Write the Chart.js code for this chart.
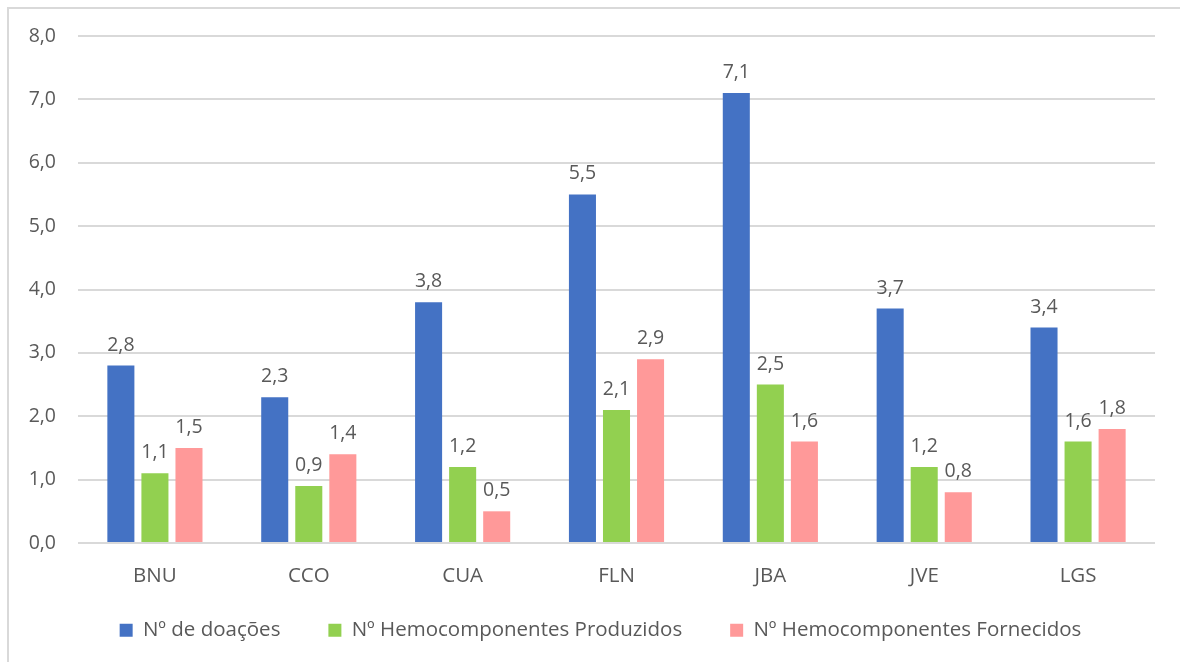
<!DOCTYPE html>
<html>
<head>
<meta charset="utf-8">
<script src="https://cdn.jsdelivr.net/npm/chart.js@4.4.1/dist/chart.umd.min.js"></script>
<style>
  html, body { margin: 0; padding: 0; background: #ffffff; }
  #wrap { position: relative; width: 1180px; height: 662px; overflow: hidden; }
  #frame { position: absolute; left: 7px; top: 7px; width: 1200px; height: 700px;
           border-top: 2px solid #d9d9d9; border-left: 2px solid #d9d9d9; box-sizing: border-box; }
  canvas { position: absolute; left: 0; top: 0; }
</style>
</head>
<body>
<div id="wrap">
  <div id="frame"></div>
  <canvas id="chart" width="1180" height="662"></canvas>
</div>
<script>
// Hemocentros regionais
const categories = ['BNU', 'CCO', 'CUA', 'FLN', 'JBA', 'JVE', 'LGS'];

// Valores por série
const doacoes = [2.8, 2.3, 3.8, 5.5, 7.1, 3.7, 3.4];
const produzidos = [1.1, 0.9, 1.2, 2.1, 2.5, 1.2, 1.6];
const fornecidos = [1.5, 1.4, 0.5, 2.9, 1.6, 0.8, 1.8];

const seriesNames = ['Nº de doações', 'Nº Hemocomponentes Produzidos', 'Nº Hemocomponentes Fornecidos'];
const seriesColors = ['#4472C4', '#92D050', '#FF9999'];

const yTicks = [0, 1, 2, 3, 4, 5, 6, 7, 8];

const FONT = '"Open Sans", Lato, sans-serif';
const TEXT = '#595959';
const NUM_SIZE = 19.5;
const TXT_SIZE = 20.5;

const fmt = v => v.toFixed(1).replace('.', ',');

// Rótulos de valor acima de cada barra
const valueLabels = {
  id: 'valueLabels',
  afterDatasetsDraw(chart) {
    const ctx = chart.ctx;
    ctx.save();
    ctx.font = NUM_SIZE + 'px ' + FONT;
    ctx.fillStyle = TEXT;
    ctx.textAlign = 'center';
    ctx.textBaseline = 'alphabetic';
    chart.data.datasets.forEach((ds, i) => {
      const meta = chart.getDatasetMeta(i);
      meta.data.forEach((bar, j) => {
        ctx.fillText(fmt(ds.data[j]), bar.x, bar.y - 15);
      });
    });
    ctx.restore();
  }
};

// Aproxima a legenda dos rótulos do eixo X e desloca-a um pouco para a direita
const legendPlacement = {
  id: 'legendPlacement',
  afterLayout(chart) {
    const lg = chart.legend;
    if (!lg) return;
    const dy = -31, dx = 23;
    lg.top += dy;
    lg.left += dx; lg.right += dx;
  }
};

const datasets = [doacoes, produzidos, fornecidos].map((d, i) => ({
  label: seriesNames[i],
  data: d,
  backgroundColor: seriesColors[i],
  borderWidth: 0,
  categoryPercentage: 0.664,
  barPercentage: 0.794
}));

new Chart(document.getElementById('chart'), {
  type: 'bar',
  data: { labels: categories, datasets },
  options: {
    responsive: false,
    devicePixelRatio: 1,
    animation: false,
    layout: { padding: { top: 36, right: 25, left: 0, bottom: 0 } },
    plugins: {
      title: { display: false },
      tooltip: { enabled: false },
      legend: {
        position: 'bottom',
        maxHeight: 59,
        labels: {
          color: TEXT,
          font: { family: FONT, size: TXT_SIZE },
          boxWidth: 13,
          boxHeight: 13,
          padding: 48,
          useBorderRadius: false
        }
      }
    },
    scales: {
      x: {
        grid: { display: false, drawTicks: false },
        border: { display: false },
        ticks: { color: TEXT, font: { family: FONT, size: TXT_SIZE }, padding: 21 },
        afterFit(scale) { scale.height = 60; }
      },
      y: {
        min: 0,
        max: 8,
        afterBuildTicks(scale) { scale.ticks = yTicks.map(v => ({ value: v })); },
        grid: { color: '#d9d9d9', lineWidth: 2, drawTicks: false },
        border: { display: false },
        ticks: {
          color: TEXT,
          font: { family: FONT, size: NUM_SIZE },
          padding: 22,
          callback: v => fmt(v)
        },
        afterFit(scale) { scale.width = 78; }
      }
    }
  },
  plugins: [valueLabels, legendPlacement]
});
</script>
</body>
</html>
